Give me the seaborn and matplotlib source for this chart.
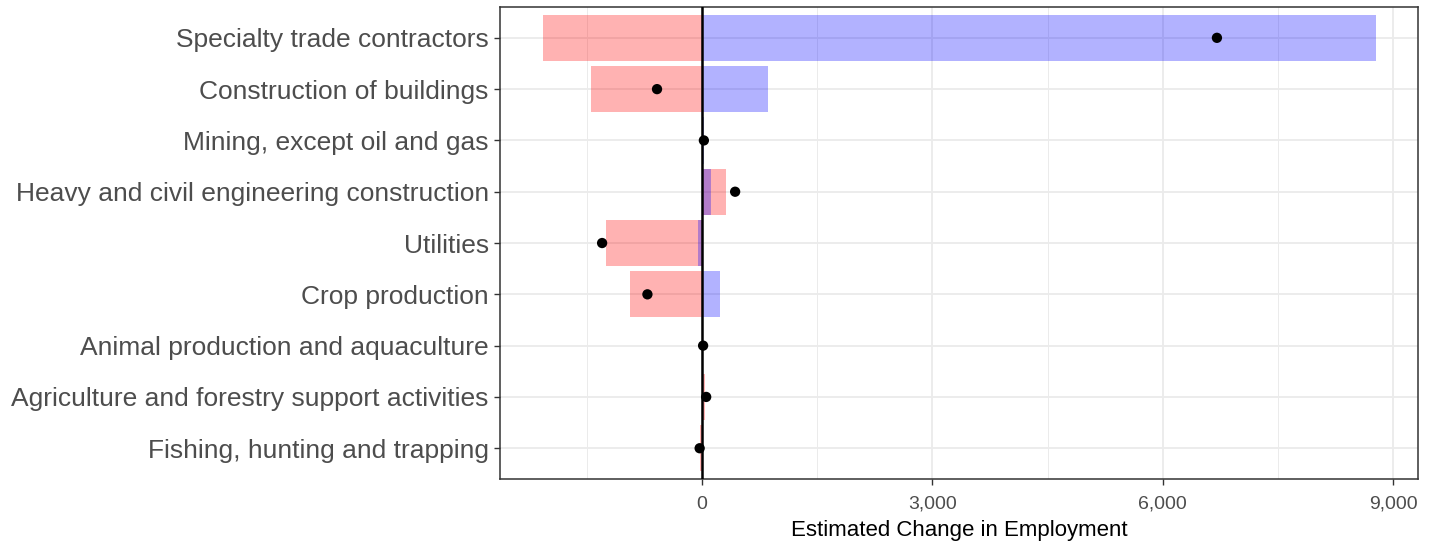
import pandas as pd
import seaborn as sns
import matplotlib.pyplot as plt
from matplotlib.ticker import FuncFormatter, MultipleLocator

# data
industries = [
    "Specialty trade contractors",
    "Construction of buildings",
    "Mining, except oil and gas",
    "Heavy and civil engineering construction",
    "Utilities",
    "Crop production",
    "Animal production and aquaculture",
    "Agriculture and forestry support activities",
    "Fishing, hunting and trapping",
]
effect_a = [-2070, -1445, 0, 312, -1250, -940, 0, 45, -25]
effect_b = [8775, 860, 25, 120, -50, 230, 15, 10, -5]
net_change = [6705, -585, 25, 432, -1300, -710, 15, 55, -30]

df = pd.DataFrame({
    "industry": industries * 2,
    "value": effect_a + effect_b,
    "component": ["Effect A"] * len(industries) + ["Effect B"] * len(industries),
})
net = pd.DataFrame({"industry": industries, "value": net_change})

sns.set_style("white")
plt.rcParams["font.family"] = ["Liberation Sans", "DejaVu Sans"]

fig = plt.figure(figsize=(14.35, 5.42), dpi=100)
ax = fig.add_axes([0.3484, 0.1162, 0.6396, 0.8708])

sns.barplot(data=df, x="value", y="industry", hue="component", order=industries,
            dodge=False, orient="h", palette={"Effect A": "red", "Effect B": "blue"},
            saturation=1, alpha=0.3, width=0.9, linewidth=0, legend=False, ax=ax)
ax.axvline(0, color="black", linewidth=1.8, zorder=3)
sns.scatterplot(data=net, x="value", y="industry", color="black", s=55,
                edgecolor="none", zorder=4, ax=ax)

ax.set_xlim(-2630, 9320)
ax.set_ylim(8.6, -0.6)
ax.set_xticks([0, 3000, 6000, 9000])
ax.xaxis.set_minor_locator(MultipleLocator(1500))
ax.xaxis.set_major_formatter(FuncFormatter(lambda v, p: f"{v:,.0f}"))

# ggplot-like grid under the bars
ax.set_axisbelow(True)
ax.grid(which="major", axis="both", color="#EBEBEB", linewidth=1.3)
ax.grid(which="minor", axis="x", color="#EBEBEB", linewidth=0.7)

ax.tick_params(axis="x", which="minor", length=0)
ax.tick_params(axis="both", which="major", length=4, width=1, color="#333333",
               direction="out", bottom=True, left=True)
ax.tick_params(axis="y", labelsize=19, labelcolor="#4D4D4D", pad=4)
ax.tick_params(axis="x", labelsize=14, labelcolor="#4D4D4D", pad=8)

ax.set_ylabel("")
ax.set_xlabel("Estimated Change in Employment", fontsize=16, color="black", labelpad=5)

for s in ax.spines.values():
    s.set_visible(True)
    s.set_color("#333333")
    s.set_linewidth(1.1)

fig.savefig("out.png", dpi=100)
